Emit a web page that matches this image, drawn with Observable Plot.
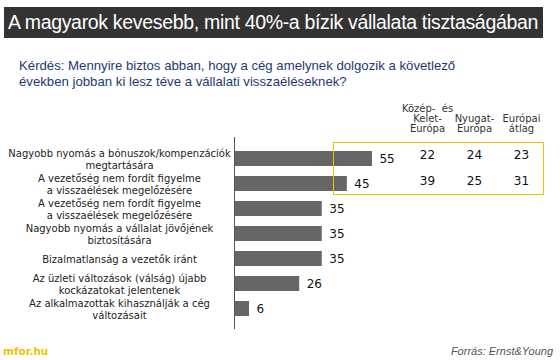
<!DOCTYPE html>
<html>
<head>
<meta charset="utf-8">
<script src="https://cdn.jsdelivr.net/npm/d3@7"></script>
<script src="https://cdn.jsdelivr.net/npm/@observablehq/plot@0.6"></script>
<style>
  html, body { margin: 0; padding: 0; background: #fff; }
  #wrap { position: relative; width: 560px; height: 360px; overflow: hidden; }
  #title { position: absolute; left: 4px; top: 7px; width: 535px; height: 31px; background: #333333; color: #fff;
    font-family: "Liberation Sans", Arial, sans-serif; font-size: 19.5px; letter-spacing: -0.32px; line-height: 31px; padding-left: 4px; white-space: nowrap; }
  #subtitle { position: absolute; left: 19px; top: 58px; color: #1b3b6f; font-family: "Liberation Sans", Arial, sans-serif;
    font-size: 13.2px; line-height: 16px; }
  #chart { position: absolute; left: 0; top: 95px; width: 560px; height: 240px; }
  #chart svg { position: absolute; left: 0; top: 0; }
  #brand { position: absolute; left: 3px; top: 345px; color: #f2c200; font-family: "DejaVu Sans", sans-serif; font-weight: bold; font-size: 10.5px; }
  #source { position: absolute; right: 7px; top: 345px; color: #555; font-family: "Liberation Sans", Arial, sans-serif; font-style: italic; font-size: 11px; }
</style>
</head>
<body>
<div id="wrap">
  <div id="title">A magyarok kevesebb, mint 40%-a bízik vállalata tisztaságában</div>
  <div id="subtitle">Kérdés: Mennyire biztos abban, hogy a cég amelynek dolgozik a követlező<br>években jobban ki lesz téve a vállalati visszaéléseknek?</div>
  <div id="chart"></div>
  <div id="brand">mfor.hu</div>
  <div id="source">Forrás: Ernst&amp;Young</div>
</div>
<script>
// Data
const labels = [
  "Nagyobb nyomás a bónuszok/kompenzációk\nmegtartására",
  "A vezetőség nem fordít figyelme\na visszaélések megelőzésére",
  "A vezetőség nem fordít figyelme\na visszaélések megelőzésére",
  "Nagyobb nyomás a vállalat jövőjének\nbiztosítására",
  "Bizalmatlanság a vezetők iránt",
  "Az üzleti változások (válság) újabb\nkockázatokat jelentenek",
  "Az alkalmazottak kihasználják a cég\nváltozásait"
];
const hungary = [55, 45, 35, 35, 35, 26, 6];
const columns = ["Közép-\u00a0 és\nKelet-\nEurópa", "Nyugat-\nEurópa", "Európai\nátlag"];
const centralEastern = [22, 39];
const western = [24, 25];
const european = [23, 31];

const rows = labels.map((label, i) => ({ i, label, value: hungary[i] }));
const tableRows = [];
[centralEastern, western, european].forEach((arr, c) => {
  arr.forEach((v, r) => tableRows.push({ row: r, col: columns[c], v }));
});

const font = { fontFamily: "DejaVu Sans, Verdana, sans-serif", background: "transparent", overflow: "visible" };

const main = Plot.plot({
  width: 560, height: 240,
  marginLeft: 234, marginRight: 0, marginTop: 42, marginBottom: 6,
  style: font,
  x: { domain: [0, 130], axis: null },
  y: { type: "band", domain: d3.range(labels.length), padding: 0.42, axis: null },
  marks: [
    Plot.barX(rows, { x: "value", y: "i", fill: "#666666" }),
    Plot.ruleX([0], { stroke: "#555" }),
    Plot.text(rows, { x: "value", y: "i", text: d => String(d.value), dx: 7, textAnchor: "start", fontSize: 12, fill: "#111" }),
    Plot.text(rows, { y: "i", text: "label", frameAnchor: "left", dx: -115, textAnchor: "middle", fontSize: 10, lineHeight: 1.2, fill: "#222" })
  ]
});

const table = Plot.plot({
  width: 560, height: 240,
  marginLeft: 333, marginRight: 17, marginTop: 47, marginBottom: 141,
  style: font,
  x: { type: "point", domain: columns, padding: 1.234, align: 0.81, axis: null, label: null },
  y: { type: "band", domain: [0, 1], padding: 0, axis: null },
  marks: [
    Plot.frame({ stroke: "#f0c400" }),
    Plot.axisX({ anchor: "top", tickSize: 0, tickPadding: 11, fontSize: 10, lineHeight: 0.98, fill: "#333", label: null }),
    Plot.text(tableRows, { x: "col", y: "row", text: d => String(d.v), fontSize: 12, fill: "#111" })
  ]
});

const chart = document.getElementById("chart");
chart.appendChild(main);
chart.appendChild(table);
</script>
</body>
</html>
